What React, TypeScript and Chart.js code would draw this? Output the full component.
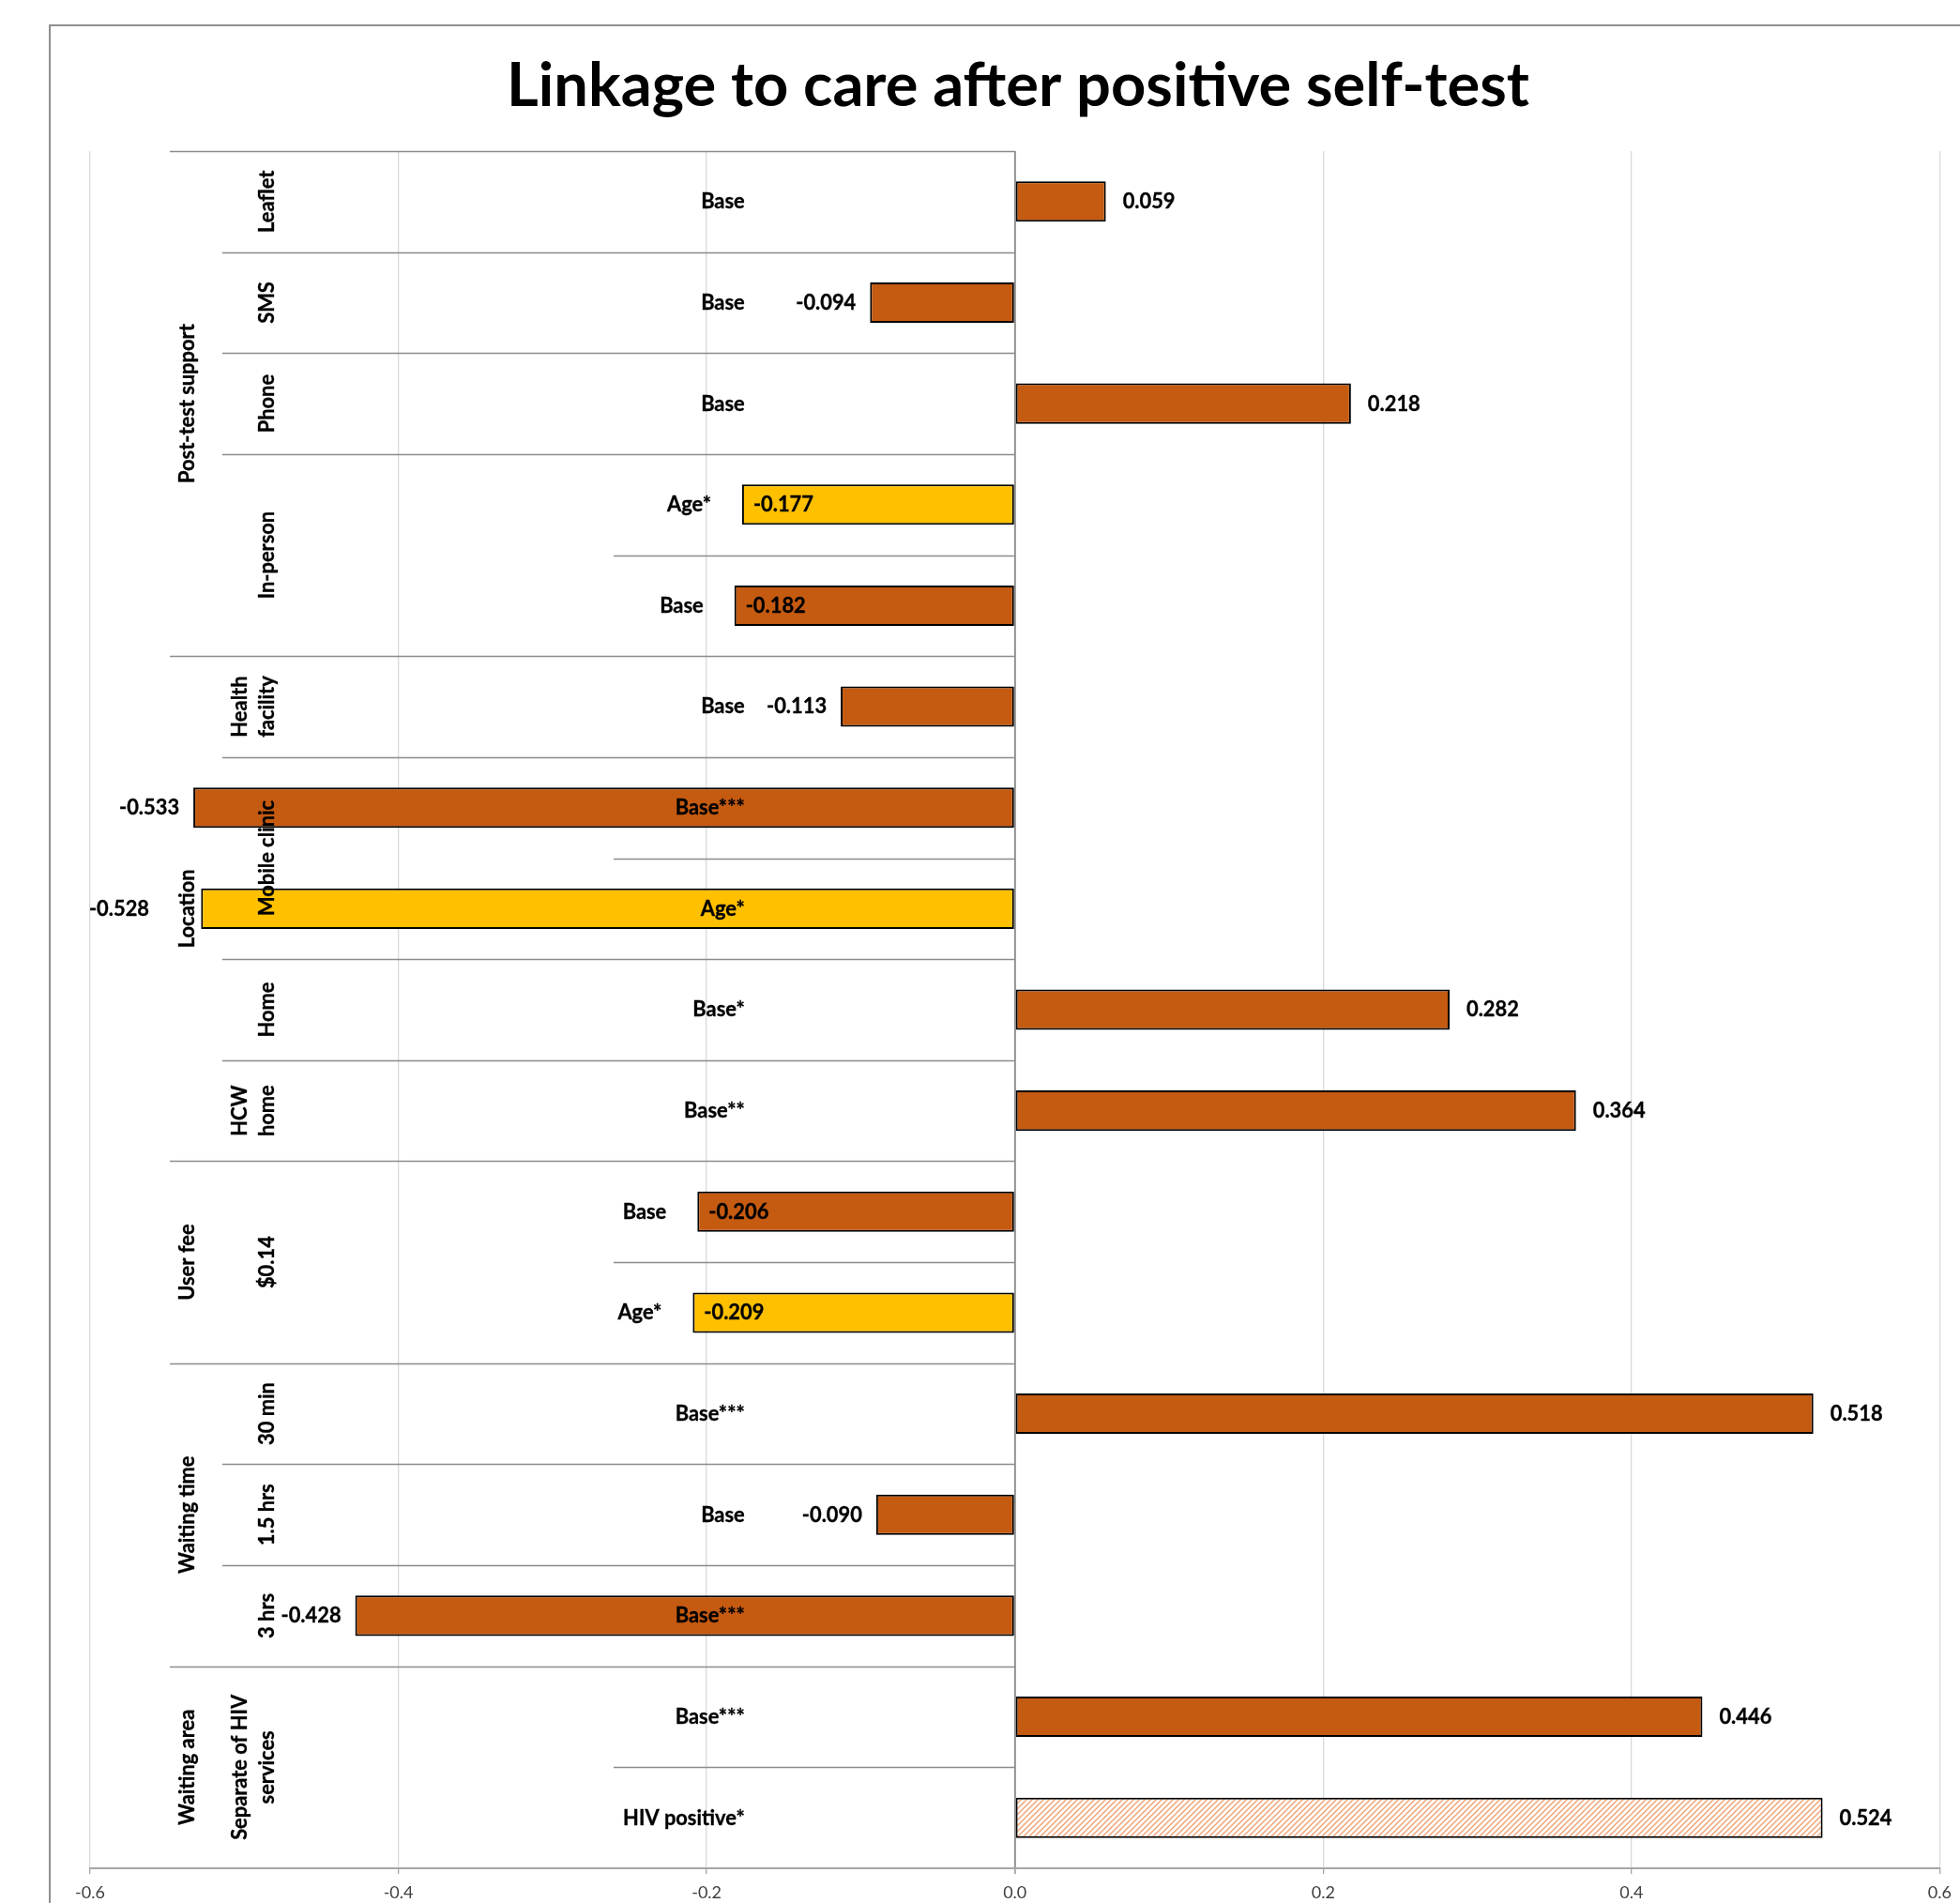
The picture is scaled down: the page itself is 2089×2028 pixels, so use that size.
import React, { useEffect, useRef } from 'react';
import { Chart, registerables } from 'chart.js';

Chart.register(...registerables);

// ---------- data ----------
const chartTitle = 'Linkage to care after positive self-test';
const rowLabels = ['Base', 'Base', 'Base', 'Age*', 'Base', 'Base', 'Base***', 'Age*', 'Base*', 'Base**', 'Base', 'Age*', 'Base***', 'Base', 'Base***', 'Base***', 'HIV positive*'];
const values = [0.059, -0.094, 0.218, -0.177, -0.182, -0.113, -0.533, -0.528, 0.282, 0.364, -0.206, -0.209, 0.518, -0.09, -0.428, 0.446, 0.524];
const seriesKind = ['base', 'base', 'base', 'age', 'base', 'base', 'base', 'age', 'base', 'base', 'base', 'age', 'base', 'base', 'base', 'base', 'hiv'];
const level2Labels: string[][] = [['Leaflet'], ['SMS'], ['Phone'], ['In-person'], ['Health', 'facility'], ['Mobile clinic'], ['Home'], ['HCW', 'home'], ['$0.14'], ['30 min'], ['1.5 hrs'], ['3 hrs'], ['Separate of HIV', 'services']];
const level2Spans = [1, 1, 1, 2, 1, 2, 1, 1, 2, 1, 1, 1, 2];
const level1Labels = ['Post-test support', 'Location', 'User fee', 'Waiting time', 'Waiting area'];
const level1Spans = [5, 5, 2, 3, 2];
const xMin = -0.6;
const xMax = 0.6;
const xStep = 0.2;

// ---------- styles ----------
const FAMILY = 'Lato, "Open Sans", sans-serif';
const ORANGE = '#C55A11';
const YELLOW = '#FFC000';
const LABEL_FONT = `bold 23px ${FAMILY}`;
const SX = 0.95; // slight horizontal condensing (Calibri-like proportions)

function makeHatch(): CanvasPattern | string {
  const c = document.createElement('canvas');
  c.width = 6;
  c.height = 6;
  const g = c.getContext('2d');
  if (!g) return '#F4B183';
  g.fillStyle = '#ffffff';
  g.fillRect(0, 0, 6, 6);
  g.strokeStyle = '#EFA070';
  g.lineWidth = 1.4;
  g.beginPath();
  g.moveTo(0, 6); g.lineTo(6, 0);
  g.moveTo(-3, 3); g.lineTo(3, -3);
  g.moveTo(3, 9); g.lineTo(9, 3);
  g.stroke();
  const p = g.createPattern(c, 'repeat');
  return p || '#F4B183';
}

function cumulative(spans: number[]): number[] {
  const out: number[] = [];
  let s = 0;
  for (const v of spans) { s += v; out.push(s); }
  return out;
}

function drawText(ctx: CanvasRenderingContext2D, text: string, x: number, y: number, align: CanvasTextAlign, rotate = false) {
  ctx.save();
  ctx.translate(x, y);
  if (rotate) ctx.rotate(-Math.PI / 2);
  ctx.scale(SX, 1);
  ctx.textAlign = align;
  ctx.textBaseline = 'middle';
  ctx.fillText(text, 0, 0);
  ctx.lineWidth = 0.35;
  ctx.strokeStyle = '#000000';
  ctx.strokeText(text, 0, 0);
  ctx.restore();
}

// layout columns of the multi-level category axis (canvas px)
const L1_START = 181;
const L2_START = 237;
const L3_START = 654;
const L1_X = 200;
const L2_X = 285;
const L2_LINE = 29;
const L3_OFFSET = 288;

const structurePlugin = {
  id: 'structure',
  beforeDraw(chart: any) {
    const ctx = chart.ctx as CanvasRenderingContext2D;
    ctx.save();
    ctx.fillStyle = '#ffffff';
    ctx.fillRect(0, 0, chart.width, chart.height);
    ctx.strokeStyle = '#8f8f8f';
    ctx.lineWidth = 2;
    ctx.beginPath();
    ctx.moveTo(53, chart.height + 5);
    ctx.lineTo(53, 27);
    ctx.lineTo(chart.width + 5, 27);
    ctx.stroke();
    ctx.restore();
  },
  beforeDatasetsDraw(chart: any) {
    const ctx = chart.ctx as CanvasRenderingContext2D;
    const x = chart.scales.x;
    const y = chart.scales.y;
    const x0 = x.getPixelForValue(0);
    const n = rowLabels.length;
    const rowH = (y.bottom - y.top) / n;
    const c1 = cumulative(level1Spans);
    const c2 = cumulative(level2Spans);
    ctx.save();
    ctx.strokeStyle = '#8c8c8c';
    ctx.lineWidth = 1.5;
    for (let k = 0; k < n; k++) {
      const yy = Math.round(y.top + k * rowH) + 0.5;
      let start = L3_START;
      if (k === 0 || c1.includes(k)) start = L1_START;
      else if (c2.includes(k)) start = L2_START;
      ctx.beginPath();
      ctx.moveTo(start, yy);
      ctx.lineTo(x0, yy);
      ctx.stroke();
    }
    ctx.restore();
  },
  afterDatasetsDraw(chart: any) {
    const ctx = chart.ctx as CanvasRenderingContext2D;
    const x = chart.scales.x;
    const y = chart.scales.y;
    const x0 = x.getPixelForValue(0);
    const meta = chart.getDatasetMeta(0);
    ctx.save();
    ctx.fillStyle = '#000000';
    ctx.font = LABEL_FONT;

    // level 1 labels
    const l1Boxes: { x1: number; x2: number; y1: number; y2: number }[] = [];
    let r = 0;
    level1Labels.forEach((lab, gi) => {
      const first = r;
      const last = r + level1Spans[gi] - 1;
      const cy = (y.getPixelForValue(first) + y.getPixelForValue(last)) / 2;
      drawText(ctx, lab, L1_X, cy, 'center', true);
      const w = ctx.measureText(lab).width * SX;
      l1Boxes.push({ x1: L1_X - 14, x2: L1_X + 14, y1: cy - w / 2, y2: cy + w / 2 });
      r += level1Spans[gi];
    });

    // level 2 labels
    r = 0;
    level2Labels.forEach((lines, gi) => {
      const first = r;
      const last = r + level2Spans[gi] - 1;
      const cy = (y.getPixelForValue(first) + y.getPixelForValue(last)) / 2;
      lines.forEach((ln, li) => {
        drawText(ctx, ln, L2_X - (lines.length - 1 - li) * L2_LINE, cy, 'center', true);
      });
      r += level2Spans[gi];
    });

    // level 3 labels and value labels
    values.forEach((v, i) => {
      const el = meta.data[i];
      const bx = el.x;
      const cy = el.y;
      let catRight = x0 - L3_OFFSET;
      const txt = v.toFixed(3);
      const tw = ctx.measureText(txt).width * SX;
      if (v < 0 && bx < catRight + 20 && bx > catRight - 150) {
        // bar reaches into the label column: label moves left, value sits inside the bar
        catRight = bx - 33;
        drawText(ctx, txt, bx + 12, cy, 'left');
      } else if (v < 0) {
        let rx = bx - 15;
        for (const b of l1Boxes) {
          if (rx - tw < b.x2 && rx > b.x1 && cy + 11 > b.y1 && cy - 11 < b.y2) rx = b.x1 - 27;
        }
        drawText(ctx, txt, rx, cy, 'right');
      } else {
        drawText(ctx, txt, bx + 18, cy, 'left');
      }
      drawText(ctx, rowLabels[i], catRight, cy, 'right');
    });
    ctx.restore();
  },
};

export default function App() {
  const ref = useRef<HTMLCanvasElement>(null);
  useEffect(() => {
    document.body.style.margin = '0';
    const canvas = ref.current;
    if (!canvas) return;
    const hatch = makeHatch();
    const colors = seriesKind.map((k) => (k === 'age' ? YELLOW : k === 'hiv' ? hatch : ORANGE));
    const chart = new Chart(canvas, {
      type: 'bar',
      data: {
        labels: rowLabels.map((l, i) => `${i}:${l}`),
        datasets: [
          {
            data: values,
            backgroundColor: colors as any,
            borderColor: '#000000',
            borderWidth: 2,
            borderSkipped: false,
            barPercentage: 0.4,
            categoryPercentage: 1,
          },
        ],
      },
      options: {
        indexAxis: 'y',
        animation: false,
        responsive: true,
        maintainAspectRatio: false,
        devicePixelRatio: 1,
        layout: { padding: { left: 96, right: 15, top: 0, bottom: 0 } },
        plugins: {
          legend: { display: false },
          tooltip: { enabled: false },
          title: {
            display: true,
            text: chartTitle,
            color: '#000000',
            font: { family: FAMILY, size: 65, weight: 'bold' },
            padding: { top: 53, bottom: 30 },
          },
        },
        scales: {
          x: {
            type: 'linear',
            min: xMin,
            max: xMax,
            ticks: {
              stepSize: xStep,
              callback: (v: any) => Number(v).toFixed(1),
              font: { family: FAMILY, size: 18 },
              color: '#404040',
              padding: 9,
              maxRotation: 0,
              autoSkip: false,
            },
            grid: {
              color: (c: any) => (c.tick && Math.abs(c.tick.value) < 1e-9 ? '#8c8c8c' : '#d9d9d9'),
              lineWidth: (c: any) => (c.tick && Math.abs(c.tick.value) < 1e-9 ? 1.8 : 1.3),
              drawTicks: true,
              tickLength: 6,
              tickColor: '#a6a6a6',
            },
            border: { display: true, color: '#a6a6a6', width: 2 },
            afterFit: (scale: any) => { scale.height = 37; },
          } as any,
          y: {
            type: 'category',
            display: false,
            offset: true,
            grid: { display: false },
          },
        },
      },
      plugins: [structurePlugin],
    });
    return () => chart.destroy();
  }, []);
  return (
    <div style={{ width: 2089, height: 2028, position: 'relative', overflow: 'hidden' }}>
      <canvas ref={ref} style={{ display: 'block' }} />
    </div>
  );
}
